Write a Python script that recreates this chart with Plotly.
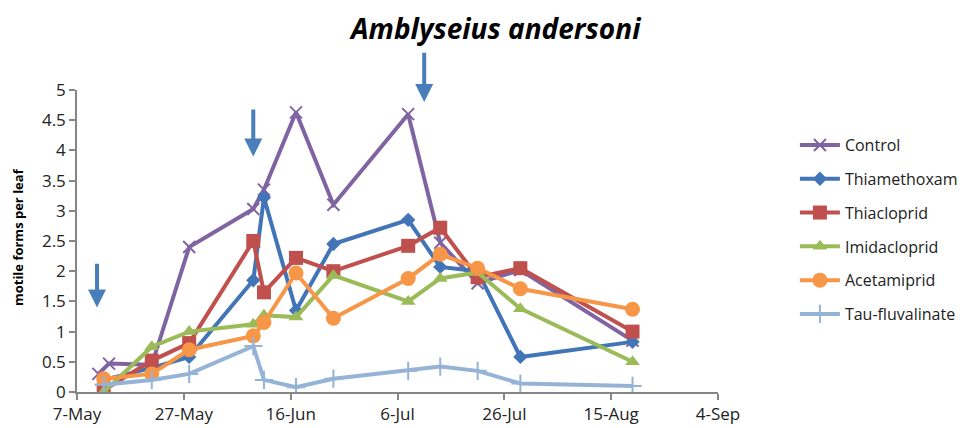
import plotly.graph_objects as go

# ---------------- data ----------------
series_names = ["Control", "Thiamethoxam", "Thiacloprid", "Imidacloprid",
                "Acetamiprid", "Tau-fluvalinate"]

control_dates = ["2012-05-11", "2012-05-13", "2012-05-21", "2012-05-28", "2012-06-09",
                 "2012-06-11", "2012-06-17", "2012-06-24", "2012-07-08", "2012-07-14",
                 "2012-07-21", "2012-07-29", "2012-08-19"]
control = [0.30, 0.47, 0.45, 2.40, 3.03, 3.35, 4.63, 3.10, 4.60, 2.47, 1.80, 2.02, 0.85]

dates = ["2012-05-12", "2012-05-21", "2012-05-28", "2012-06-09", "2012-06-11",
         "2012-06-17", "2012-06-24", "2012-07-08", "2012-07-14", "2012-07-21",
         "2012-07-29", "2012-08-19"]
thiamethoxam = [0.20, 0.40, 0.58, 1.85, 3.22, 1.35, 2.45, 2.85, 2.07, 2.00, 0.58, 0.83]
thiacloprid = [0.03, 0.52, 0.81, 2.50, 1.65, 2.22, 2.00, 2.42, 2.72, 1.90, 2.05, 1.00]
imidacloprid = [0.00, 0.75, 1.00, 1.12, 1.27, 1.24, 1.93, 1.50, 1.88, 1.98, 1.38, 0.50]
acetamiprid = [0.22, 0.30, 0.70, 0.93, 1.15, 1.97, 1.22, 1.88, 2.28, 2.05, 1.71, 1.37]
tau_fluvalinate = [0.12, 0.20, 0.30, 0.76, 0.20, 0.08, 0.22, 0.35, 0.42, 0.35, 0.14, 0.10]

# treatment arrows (date, tail value, tip value)
arrow_dates = ["2012-05-10 18:00", "2012-06-09", "2012-07-11"]
arrow_tail = [2.15, 4.70, 5.64]
arrow_tip = [1.40, 3.90, 4.80]

title_text = "Amblyseius andersoni"
y_title = "motile forms per leaf"
x_range = ["2012-05-07", "2012-09-04"]

# ---------------- styles ----------------
colors = ["#8064A2", "#4275B8", "#C0504D", "#9BBB59", "#F79646", "#95B3D7"]
symbols = ["x-thin", "diamond", "square", "triangle-up", "circle", "cross-thin"]
sizes = [12, 11, 14, 13, 15, 13]

xs = [control_dates] + [dates] * 5
ys = [control, thiamethoxam, thiacloprid, imidacloprid, acetamiprid, tau_fluvalinate]

FONT = "Open Sans"
fig = go.Figure()
for i, name in enumerate(series_names):
    thin = symbols[i].endswith("thin")
    fig.add_trace(go.Scatter(
        x=xs[i], y=ys[i], name=name, mode="lines+markers",
        legendgroup=name,
        line=dict(color=colors[i], width=4),
        marker=dict(symbol=symbols[i], size=sizes[i], color=colors[i],
                    line=dict(color=colors[i], width=2 if thin else 0)),
    ))

for d, t0, t1 in zip(arrow_dates, arrow_tail, arrow_tip):
    fig.add_annotation(x=d, y=t1, ax=d, ay=t0, xref="x", yref="y",
                       axref="x", ayref="y", text="", showarrow=True,
                       arrowhead=2, arrowsize=0.9, arrowwidth=4,
                       arrowcolor="#4A7EBB")

fig.add_annotation(x=(495 - 77) / 641, y=1.205, xref="paper", yref="paper",
                   text="<b><i>" + title_text + "</i></b>", showarrow=False,
                   font=dict(family=FONT, size=28, color="black"),
                   xanchor="center", yanchor="middle")
fig.add_annotation(x=(18 - 77) / 641, y=0.513, xref="paper", yref="paper",
                   text="<b>" + y_title + "</b>", showarrow=False, textangle=-90,
                   font=dict(family=FONT, size=13, color="black"),
                   xanchor="center", yanchor="middle")

# page body has an 8px margin, so the figure is 8px smaller on each axis
fig.update_layout(
    width=960, height=420,
    margin=dict(l=69, r=250, t=82, b=36, autoexpand=False),
    paper_bgcolor="white", plot_bgcolor="white",
    font=dict(family=FONT, size=17, color="#222222"),
    showlegend=True,
    legend=dict(x=1.12, y=0.874, xanchor="left", yanchor="top",
                traceorder="grouped", tracegroupgap=10,
                font=dict(family=FONT, size=16, color="#222222"),
                itemwidth=40, bgcolor="rgba(0,0,0,0)"),
    xaxis=dict(type="date", range=x_range, tick0="2012-05-07",
               dtick=20 * 86400000, tickformat="%-d-%b",
               showline=True, linecolor="#868686", linewidth=1.5,
               ticks="outside", tickcolor="#868686", ticklen=6, tickwidth=1.5,
               showgrid=False, zeroline=False),
    yaxis=dict(range=[0, 5], dtick=0.5, tick0=0,
               showline=True, linecolor="#868686", linewidth=1.5,
               ticks="outside", tickcolor="#868686", ticklen=6, tickwidth=1.5,
               showgrid=False, zeroline=False),
)

fig.write_html("out.html")
